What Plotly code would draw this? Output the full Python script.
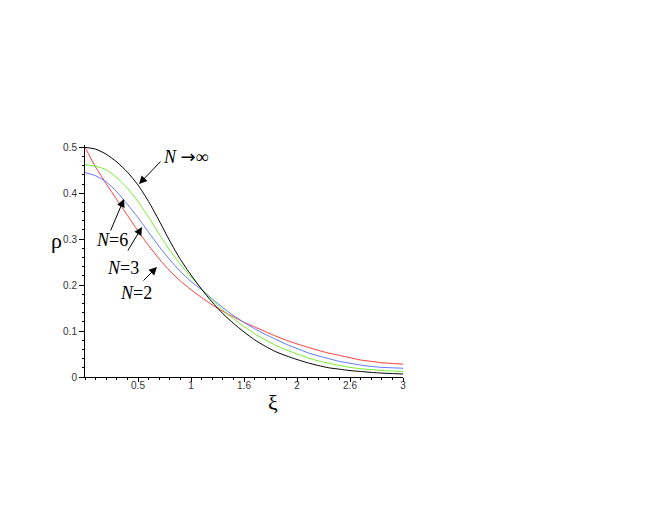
import plotly.graph_objects as go

xi = [0.0, 0.1, 0.2, 0.3, 0.4, 0.5, 0.6, 0.7, 0.8, 0.9, 1.0,
      1.1, 1.2, 1.3, 1.4, 1.5, 1.6, 1.7, 1.8, 1.9, 2.0,
      2.1, 2.2, 2.3, 2.4, 2.5, 2.6, 2.7, 2.8, 2.9, 3.0]

rho_inf = [0.500, 0.496, 0.485, 0.468, 0.446, 0.418, 0.382, 0.340, 0.296, 0.256, 0.222,
           0.191, 0.163, 0.138, 0.117, 0.098, 0.081, 0.067, 0.055, 0.046, 0.038,
           0.031, 0.025, 0.020, 0.017, 0.014, 0.012, 0.010, 0.0085, 0.0075, 0.0065]
rho_n6 = [0.462, 0.459, 0.451, 0.434, 0.411, 0.382, 0.348, 0.311, 0.276, 0.245, 0.218,
          0.192, 0.168, 0.146, 0.127, 0.110, 0.094, 0.081, 0.069, 0.059, 0.050,
          0.042, 0.035, 0.030, 0.025, 0.021, 0.018, 0.016, 0.014, 0.013, 0.012]
rho_n3 = [0.445, 0.438, 0.425, 0.403, 0.376, 0.347, 0.315, 0.284, 0.255, 0.230, 0.208,
          0.190, 0.170, 0.151, 0.134, 0.119, 0.105, 0.093, 0.082, 0.071, 0.062,
          0.053, 0.046, 0.040, 0.034, 0.030, 0.026, 0.023, 0.021, 0.020, 0.019]
rho_n2 = [0.500, 0.457, 0.421, 0.386, 0.352, 0.318, 0.286, 0.257, 0.231, 0.209, 0.190,
          0.173, 0.157, 0.143, 0.131, 0.119, 0.109, 0.099, 0.089, 0.080, 0.072,
          0.065, 0.058, 0.052, 0.047, 0.042, 0.037, 0.034, 0.031, 0.0295, 0.028]

x_tickvals = [0.5, 1, 1.5, 2, 2.5, 3]
x_ticktext = ["0.5", "1", "1.6", "2", "2.6", "3"]
y_tickvals = [0, 0.1, 0.2, 0.3, 0.4, 0.5]
y_ticktext = ["0", "0.1", "0.2", "0.3", "0.4", "0.5"]

series = [
    ("N=2", rho_n2, "#ff3b3b"),
    ("N=3", rho_n3, "#5f78ff"),
    ("N=6", rho_n6, "#72ee2e"),
    ("N→∞", rho_inf, "#000000"),
]

fig = go.Figure()
for name, ys, col in series:
    fig.add_trace(go.Scatter(x=xi, y=ys, mode="lines", name=name,
                             line=dict(color=col, width=1, shape="spline", smoothing=0.6)))

tick_font = dict(family="Liberation Sans, Arial, sans-serif", size=10, color="#333333")
ann_font = dict(family="Liberation Serif, Times New Roman, serif", size=18, color="#000000")

# the page body has an 8px margin, so the figure is drawn 8px in from the corner
W, H = 648, 497
ML, MT = 77, 137
MR = W - (403 - 8)
MB = H - (377 - 8)

fig.update_layout(
    width=W, height=H,
    paper_bgcolor="white", plot_bgcolor="white",
    showlegend=False,
    margin=dict(l=ML, r=MR, t=MT, b=MB, autoexpand=False),
    xaxis=dict(range=[0, 3], showgrid=False, zeroline=False,
               showline=True, linecolor="#000000", linewidth=1,
               ticks="outside", ticklen=4, tickwidth=1, tickcolor="#000000",
               tickvals=x_tickvals, ticktext=x_ticktext, tickfont=tick_font,
               ticklabelstandoff=-5,
               minor=dict(ticks="outside", ticklen=2, dtick=0.1, tick0=0, tickcolor="#000000", showgrid=False)),
    yaxis=dict(range=[0, 0.505], showgrid=False, zeroline=False,
               showline=True, linecolor="#000000", linewidth=1,
               ticks="outside", ticklen=5, tickwidth=1, tickcolor="#000000",
               tickvals=y_tickvals, ticktext=y_ticktext, tickfont=tick_font,
               minor=dict(ticks="outside", ticklen=2, dtick=0.02, tick0=0, tickcolor="#000000", showgrid=False)),
)


def page_x(px):
    return (px - 85) / (403 - 85)


def page_y(py):
    return (377 - py) / (H - MT - MB)


fig.add_annotation(x=page_x(273), y=page_y(402), xref="paper", yref="paper",
                   xanchor="center", yanchor="middle",
                   text="ξ", showarrow=False,
                   font=dict(family="Liberation Serif, serif", size=22, color="#000"))
fig.add_annotation(x=page_x(56), y=page_y(240), xref="paper", yref="paper",
                   xanchor="center", yanchor="middle",
                   text="ρ", showarrow=False,
                   font=dict(family="Liberation Serif, serif", size=22, color="#000"))

# labels with arrows: (text, text_px, text_py, tip_px, tip_py, tail_px, tail_py)
labels = [
    ("<i>N</i> <span style='font-family:DejaVu Sans'>→</span>∞", 186, 156, 139, 184, 162, 160),
    ("<i>N</i>=6", 112, 240, 124, 199, 110, 232),
    ("<i>N</i>=3", 123, 268, 142, 227, 127, 252),
    ("<i>N</i>=2", 136, 293, 157, 267, 142, 282),
]
for txt, tx, ty, hx, hy, sx, sy in labels:
    fig.add_annotation(x=page_x(tx), y=page_y(ty), xref="paper", yref="paper",
                       xanchor="center", yanchor="middle",
                       text=txt, showarrow=False, font=ann_font)
    fig.add_annotation(x=page_x(hx), y=page_y(hy), xref="paper", yref="paper",
                       ax=sx - hx, ay=sy - hy, axref="pixel", ayref="pixel",
                       text="", showarrow=True, arrowhead=2, arrowsize=1.6, arrowwidth=1,
                       arrowcolor="#000000", standoff=0, startstandoff=0)

fig.write_html("out.html")
